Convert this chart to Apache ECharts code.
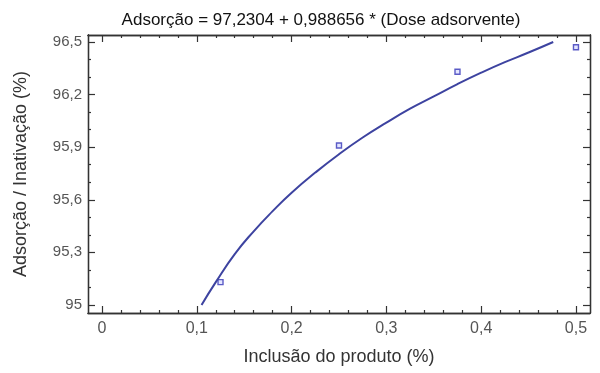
<!DOCTYPE html>
<html>
<head>
<meta charset="utf-8">
<script src="https://cdn.jsdelivr.net/npm/echarts@6/dist/echarts.min.js"></script>
<style>
html,body{margin:0;padding:0;background:#fff;}
#c{width:600px;height:373px;}
</style>
</head>
<body>
<div id="c"></div>
<script>
// Observed points
var obsX = [0.125, 0.25, 0.375, 0.5];
var obsY = [95.13, 95.91, 96.33, 96.47];
// Fitted curve
var curveX = [0.105, 0.12, 0.14, 0.16, 0.18, 0.20, 0.225, 0.25, 0.275, 0.30, 0.325, 0.35, 0.375, 0.40, 0.425, 0.45, 0.476];
var curveY = [95.00, 95.13, 95.29, 95.42, 95.535, 95.64, 95.755, 95.86, 95.955, 96.04, 96.12, 96.19, 96.26, 96.325, 96.385, 96.44, 96.5];
// Ticks
var xMajor = [0, 0.1, 0.2, 0.3, 0.4, 0.5];
var xMinor = [0.02,0.04,0.06,0.08,0.12,0.14,0.16,0.18,0.22,0.24,0.26,0.28,0.32,0.34,0.36,0.38,0.42,0.44,0.46,0.48];
var yMajor = [95, 95.3, 95.6, 95.9, 96.2, 96.5];
var yMinor = [95.1,95.2,95.4,95.5,95.7,95.8,96.0,96.1,96.3,96.4];

var title = 'Adsorção = 97,2304 + 0,988656 * (Dose adsorvente)';
var xName = 'Inclusão do produto (%)';
var yName = 'Adsorção / Inativação (%)';

var X_MIN = -0.0148, X_MAX = 0.5148, Y_MIN = 94.954, Y_MAX = 96.54;
var FONT = 'Liberation Sans, Arial, sans-serif';
var AX = '#333';

function fmt(v){ return String(Math.round(v*10)/10).replace('.', ','); }

function xAxisDef(pos, vals, len, labels, name){
  return {
    type:'value', position:pos, min:X_MIN, max:X_MAX,
    name: name || '', nameLocation:'middle', nameGap:35,
    nameTextStyle:{fontFamily:FONT, fontSize:18, color:'#333'},
    axisLine:{show:true, onZero:false, lineStyle:{color:AX, width:1.3}},
    axisTick:{show:true, inside:true, length:len, customValues:vals, lineStyle:{color:AX, width:1.2}},
    axisLabel:{show:labels, customValues:vals, margin:8, formatter:fmt, fontFamily:FONT, fontSize:16, color:'#555'},
    splitLine:{show:false}
  };
}
function yAxisDef(pos, vals, len, labels, name){
  return {
    type:'value', position:pos, min:Y_MIN, max:Y_MAX,
    name: name || '', nameLocation:'middle', nameGap:58,
    nameTextStyle:{fontFamily:FONT, fontSize:18, color:'#333'},
    axisLine:{show:true, onZero:false, lineStyle:{color:AX, width:1.3}},
    axisTick:{show:true, inside:true, length:len, customValues:vals, lineStyle:{color:AX, width:1.2}},
    axisLabel:{show:labels, customValues:vals, margin:6, formatter:fmt, fontFamily:FONT, fontSize:15, color:'#555'},
    splitLine:{show:false}
  };
}

var chart = echarts.init(document.getElementById('c'), null, {renderer:'canvas'});
chart.setOption({
  animation:false,
  backgroundColor:'#fff',
  title:{text:title, left:316, textAlign:'center', top:7, textStyle:{fontFamily:FONT, fontSize:17, fontWeight:'normal', color:'#111'}},
  grid:{left:88, right:10, top:35, bottom:60, containLabel:false},
  xAxis:[
    xAxisDef('bottom', xMajor, 7, true, xName),
    xAxisDef('bottom', xMinor, 3, false),
    xAxisDef('top', xMajor, 7, false),
    xAxisDef('top', xMinor, 3, false)
  ],
  yAxis:[
    yAxisDef('left', yMajor, 7, true, yName),
    yAxisDef('left', yMinor, 3, false),
    yAxisDef('right', yMajor, 7, false),
    yAxisDef('right', yMinor, 3, false)
  ],
  series:[
    {type:'line', xAxisIndex:0, yAxisIndex:0, smooth:true, showSymbol:false, symbol:'none',
     lineStyle:{color:'#3d43a0', width:2}, data: curveX.map(function(x,i){return [x, curveY[i]];})},
    {type:'scatter', xAxisIndex:0, yAxisIndex:0, symbol:'rect', symbolSize:5,
     itemStyle:{color:'#dde0ff', borderColor:'#3535b8', borderWidth:1.4},
     data: obsX.map(function(x,i){return [x, obsY[i]];})}
  ]
});
</script>
</body>
</html>
